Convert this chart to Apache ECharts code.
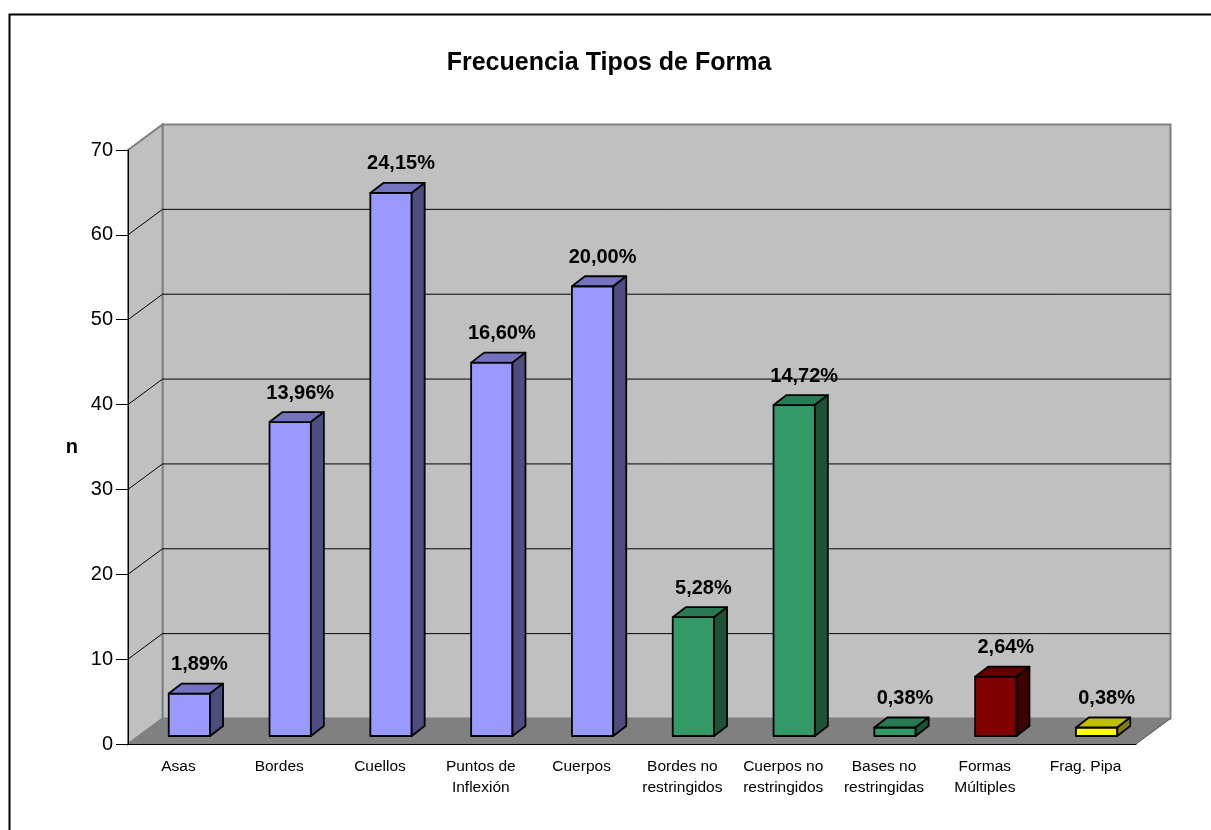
<!DOCTYPE html>
<html>
<head>
<meta charset="utf-8">
<script src="https://cdn.jsdelivr.net/npm/echarts@6/dist/echarts.min.js"></script>
<style>
  html, body { margin: 0; padding: 0; background: #fff; }
  #chart { width: 1211px; height: 830px; }
</style>
</head>
<body>
<div id="chart"></div>
<script>
// Categories and counts (n) per form type
const categories = [
  'Asas', 'Bordes', 'Cuellos', 'Puntos de\nInflexión', 'Cuerpos',
  'Bordes no\nrestringidos', 'Cuerpos no\nrestringidos', 'Bases no\nrestringidas',
  'Formas\nMúltiples', 'Frag. Pipa'
];
const counts = [5, 37, 64, 44, 53, 14, 39, 1, 7, 1];
const yTicks = [0, 10, 20, 30, 40, 50, 60, 70];

// Percent labels derived from the counts (es-ES decimal comma)
const total = counts.reduce((a, b) => a + b, 0);
const pctLabels = counts.map(v => (v / total * 100).toFixed(2).replace('.', ',') + '%');

// Face colours: [front, top, side]
const FACE = {
  blue:   ['#9999FF', '#7373C0', '#4D4D80'],
  green:  ['#339966', '#287A52', '#1C5238'],
  red:    ['#800000', '#600000', '#3C0000'],
  yellow: ['#FFFF00', '#C0C000', '#808000']
};
const barFaces = [
  FACE.blue, FACE.blue, FACE.blue, FACE.blue, FACE.blue,
  FACE.green, FACE.green, FACE.green, FACE.red, FACE.yellow
];

const FONT = '"Liberation Sans", Arial, sans-serif';
// Depth of the 3D box (walls/floor) and of each bar, in pixels
const DX = 34.5, DY = -25.5;
const SHIFT_X = 11, SHIFT_Y = -8;   // bar front face inside the floor
const BX = 13, BY = -10;            // bar depth
const BAR_FRAC = 0.41;

function renderFrame(params, api) {
  const cs = params.coordSys;
  const L = cs.x, R = cs.x + cs.width, T = cs.y, B = cs.y + cs.height;
  const children = [
    { type: 'polygon', shape: { points: [[L + DX, T + DY], [R + DX, T + DY], [R + DX, B + DY], [L + DX, B + DY]] },
      style: { fill: '#C0C0C0', stroke: '#808080', lineWidth: 2 } },
    { type: 'polygon', shape: { points: [[L, T], [L + DX, T + DY], [L + DX, B + DY], [L, B]] },
      style: { fill: '#C0C0C0', stroke: '#808080', lineWidth: 2 } },
    { type: 'polygon', shape: { points: [[L, B], [R, B], [R + DX, B + DY], [L + DX, B + DY]] },
      style: { fill: '#808080' } },
    { type: 'line', shape: { x1: R, y1: B, x2: R + DX, y2: B + DY },
      style: { stroke: '#505050', lineWidth: 1 } }
  ];
  yTicks.slice(1, -1).forEach(v => {
    const y = api.coord([0, v])[1];
    children.push({ type: 'line', shape: { x1: L, y1: y, x2: L + DX, y2: y + DY },
      style: { stroke: '#000', lineWidth: 1 } });
    children.push({ type: 'line', shape: { x1: L + DX, y1: y + DY, x2: R + DX, y2: y + DY },
      style: { stroke: '#000', lineWidth: 1 } });
  });
  return { type: 'group', children };
}

function renderBar(params, api) {
  const i = api.value(0), v = api.value(1);
  const base = api.coord([i, 0]);
  const top = api.coord([i, v]);
  const w = api.size([1, 0])[0] * BAR_FRAC;
  const cx = base[0] + SHIFT_X;
  const x0 = cx - w / 2, x1 = cx + w / 2;
  const y0 = base[1] + SHIFT_Y, y1 = top[1] + SHIFT_Y;
  const c = barFaces[params.dataIndex];
  const edge = { stroke: '#000', lineWidth: 1.8, lineJoin: 'round' };
  return {
    type: 'group',
    children: [
      { type: 'polygon', shape: { points: [[x0, y1], [x1, y1], [x1, y0], [x0, y0]] },
        style: Object.assign({ fill: c[0] }, edge) },
      { type: 'polygon', shape: { points: [[x0, y1], [x0 + BX, y1 + BY], [x1 + BX, y1 + BY], [x1, y1]] },
        style: Object.assign({ fill: c[1] }, edge) },
      { type: 'polygon', shape: { points: [[x1, y1], [x1 + BX, y1 + BY], [x1 + BX, y0 + BY], [x1, y0]] },
        style: Object.assign({ fill: c[2] }, edge) },
      { type: 'text', x: cx + 10, y: y1 + BY - 9,
        style: { text: pctLabels[params.dataIndex], fill: '#000', align: 'center', verticalAlign: 'bottom',
                 font: 'bold 20px ' + FONT } }
    ]
  };
}

const chart = echarts.init(document.getElementById('chart'), null, { renderer: 'canvas' });
chart.setOption({
  backgroundColor: '#fff',
  animation: false,
  textStyle: { fontFamily: FONT },
  title: {
    text: 'Frecuencia Tipos de Forma',
    left: 604, top: 46, textAlign: 'center',
    textStyle: { fontFamily: FONT, fontSize: 25, fontWeight: 'bold', color: '#000' }
  },
  graphic: [{
    type: 'rect', shape: { x: 9.5, y: 14.5, width: 1400, height: 1000 },
    style: { fill: 'none', stroke: '#000', lineWidth: 2 }, silent: true, z: 100
  }],
  grid: { left: 128, right: 75, top: 150, bottom: 86 },
  xAxis: {
    type: 'category',
    data: categories,
    z: 10,
    axisLine: { lineStyle: { color: '#000', width: 1 } },
    axisTick: { length: 10, lineStyle: { color: '#000' } },
    axisLabel: { interval: 0, color: '#000', fontSize: 15.5, fontFamily: FONT, lineHeight: 21, margin: 12 }
  },
  yAxis: {
    type: 'value',
    min: yTicks[0], max: yTicks[yTicks.length - 1], interval: yTicks[1] - yTicks[0],
    z: 10,
    name: 'n', nameLocation: 'middle', nameGap: 50, nameRotate: 0,
    nameTextStyle: { fontFamily: FONT, fontSize: 20, fontWeight: 'bold', color: '#000' },
    axisLine: { show: true, lineStyle: { color: '#000', width: 1 } },
    axisTick: { show: true, length: 12, lineStyle: { color: '#000' } },
    axisLabel: { color: '#000', fontSize: 20, fontFamily: FONT, margin: 15 },
    splitLine: { show: false }
  },
  series: [
    { type: 'custom', name: 'frame', renderItem: renderFrame, data: [[0, 0]], z: 1, silent: true },
    { type: 'custom', name: 'n', renderItem: renderBar, data: counts.map((v, i) => [i, v]), z: 3 }
  ]
});
</script>
</body>
</html>
